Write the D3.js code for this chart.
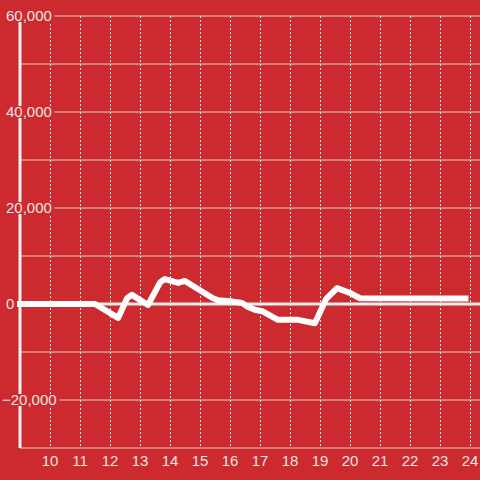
<!DOCTYPE html>
<html>
<head>
<meta charset="utf-8">
<script src="https://cdn.jsdelivr.net/npm/d3@7"></script>
<style>
  html, body { margin: 0; padding: 0; background: #cc2a2f; }
  svg { display: block; }
</style>
</head>
<body>
<svg id="chart" width="480" height="480"></svg>
<script>
// ---- data ----
const hours = [9, 11.5, 12.27, 12.57, 12.73, 13.27, 13.67, 13.83, 14.27, 14.5, 15.43, 15.6, 16.1, 16.4, 16.6, 16.83, 17.07, 17.6, 18.27, 18.83, 19.2, 19.57, 20.0, 20.33, 23.85];
const values = [0, 0, -2900, 1200, 1900, -200, 4500, 5200, 4400, 4800, 1200, 800, 500, 200, -600, -1200, -1500, -3300, -3300, -4000, 1000, 3300, 2300, 1200, 1150];
const xTicks = [10, 11, 12, 13, 14, 15, 16, 17, 18, 19, 20, 21, 22, 23, 24];
const yGrid = [-30000, -20000, -10000, 0, 10000, 20000, 30000, 40000, 50000, 60000];
const yLabels = [-20000, 0, 20000, 40000, 60000];

const bg = "#cc2a2f";
const svg = d3.select("#chart");
const x = d3.scaleLinear().domain([9, 9 + 460 / 30]).range([20, 480]);
const y = d3.scaleLinear().domain([-30000, 60000]).range([448, 16]);

svg.append("rect").attr("width", 480).attr("height", 480).attr("fill", bg);

// horizontal grid
svg.append("g").selectAll("line").data(yGrid.filter(d => d !== 0)).join("line")
  .attr("x1", x(9)).attr("x2", 480)
  .attr("y1", d => y(d)).attr("y2", d => y(d))
  .attr("stroke", "#d4d4d4").attr("stroke-width", 1.2);

// vertical dotted grid
svg.append("g").selectAll("line").data(xTicks).join("line")
  .attr("x1", d => Math.round(x(d)) + 0.5).attr("x2", d => Math.round(x(d)) + 0.5)
  .attr("y1", y(60000)).attr("y2", y(-30000))
  .attr("stroke", "#e6e6e6").attr("stroke-width", 1)
  .attr("stroke-dasharray", "2,2");

// zero line
svg.append("line").attr("x1", x(9)).attr("x2", 480)
  .attr("y1", y(0)).attr("y2", y(0))
  .attr("stroke", "#eeeeee").attr("stroke-width", 3);

// y axis line
svg.append("line").attr("x1", x(9)).attr("x2", x(9))
  .attr("y1", 22).attr("y2", y(-30000))
  .attr("stroke", "#f2f2f2").attr("stroke-width", 3);

// y labels with background boxes
const fmt = d3.format(",");
const yl = svg.append("g").selectAll("g").data(yLabels).join("g")
  .attr("transform", d => `translate(0,${y(d)})`);
yl.each(function(d) {
  const g = d3.select(this);
  const t = g.append("text")
    .attr("x", d < 0 ? 2 : 6).attr("y", 0).attr("dy", "0.35em")
    .attr("font-family", "Liberation Sans, Arial, sans-serif")
    .attr("font-size", 15).attr("fill", "#f1e4e4")
    .text(fmt(d));
  const w = t.node().getComputedTextLength();
  g.insert("rect", "text")
    .attr("x", 0).attr("y", -6).attr("width", (d < 0 ? 2 : 6) + w + 2.5).attr("height", 12)
    .attr("fill", bg);
});

// x labels
svg.append("g").selectAll("text").data(xTicks).join("text")
  .attr("x", d => x(d)).attr("y", 466)
  .attr("text-anchor", "middle")
  .attr("font-family", "Liberation Sans, Arial, sans-serif")
  .attr("font-size", 15).attr("fill", "#f1e4e4")
  .text(d => d);

// data line
const pts = hours.map((h, i) => [h, values[i]]);
const line = d3.line().x(d => x(d[0])).y(d => y(d[1])).curve(d3.curveLinear);
svg.append("path").datum(pts)
  .attr("d", line)
  .attr("fill", "none").attr("stroke", "#ffffff").attr("stroke-width", 6)
  .attr("stroke-linejoin", "round").attr("stroke-linecap", "square");
</script>
</body>
</html>
